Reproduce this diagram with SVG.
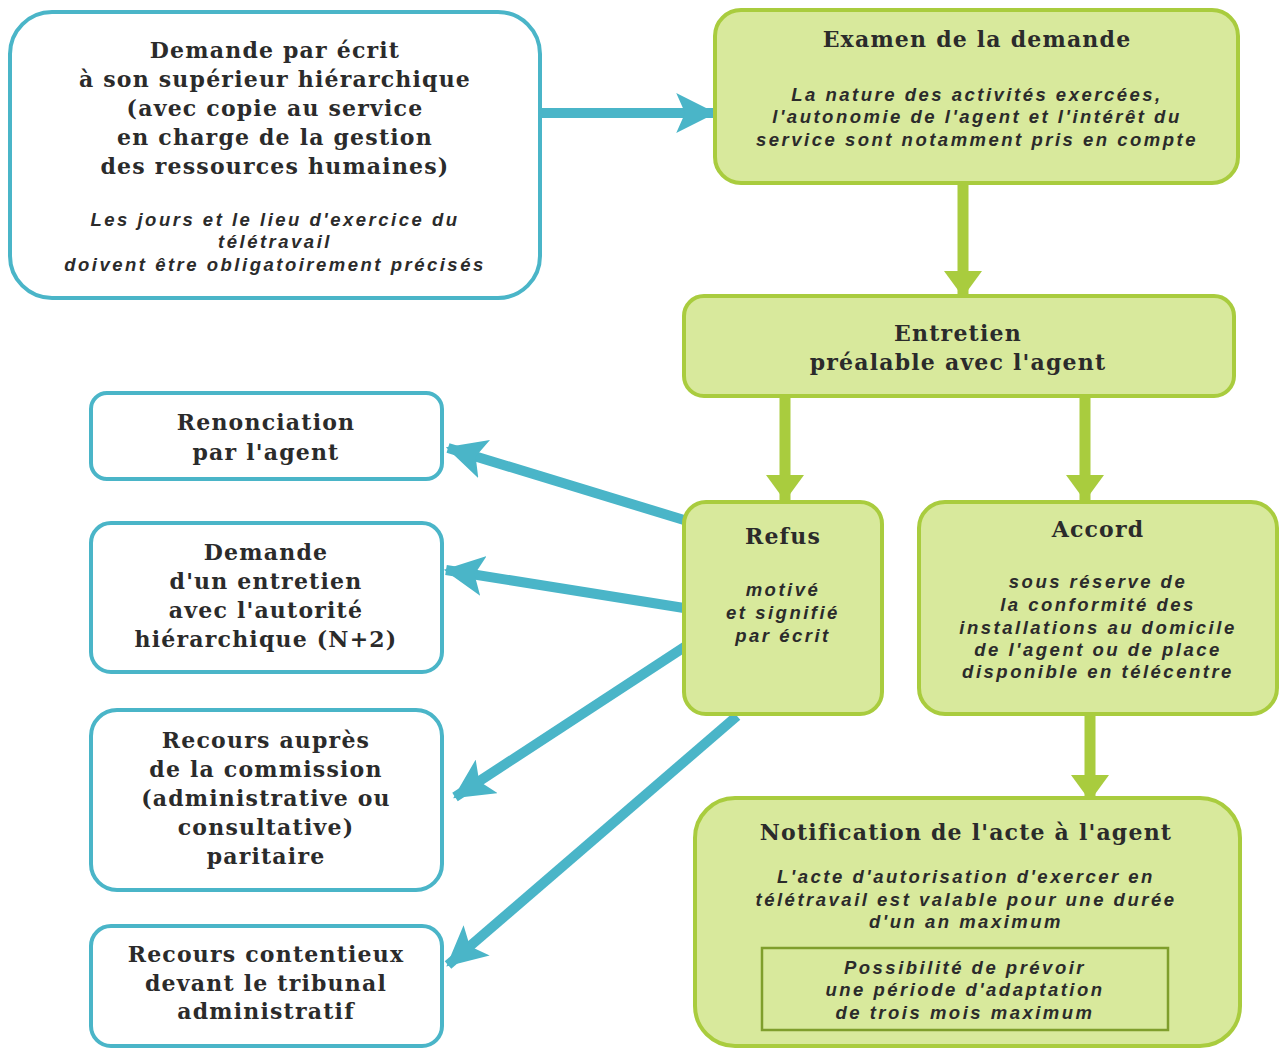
<svg xmlns="http://www.w3.org/2000/svg" width="1284" height="1049" viewBox="0 0 1284 1049">
<defs>
<style>
.bbox{fill:#ffffff;stroke:#4ab5c8;stroke-width:4}
.gbox{fill:#d8e99c;stroke:#a9cc3e;stroke-width:4}
.t{font-family:"DejaVu Serif","Liberation Serif",serif;font-weight:bold;font-size:22px;letter-spacing:1.2px;fill:#2b2b2b;text-anchor:middle}
.i{font-family:"Liberation Sans",Arial,sans-serif;font-style:italic;font-weight:bold;font-size:18.5px;letter-spacing:2.5px;fill:#2b2b2b;text-anchor:middle}
.bl{stroke:#4ab5c8;stroke-width:10;fill:none}
.gl{stroke:#a9cc3e;stroke-width:11;fill:none}
</style>
<marker id="ab" markerUnits="userSpaceOnUse" markerWidth="40" markerHeight="40" viewBox="0 0 36 36" refX="34" refY="18" orient="auto"><path d="M0,0 L36,18 L0,36 L8,18 Z" fill="#4ab5c8"/></marker>
<marker id="ag" markerUnits="userSpaceOnUse" markerWidth="26" markerHeight="38" viewBox="0 0 26 38" refX="25" refY="19" orient="auto"><path d="M0,0 L26,19 L0,38 Z" fill="#a9cc3e"/></marker>
</defs>
<rect width="1284" height="1049" fill="#ffffff"/>
<g id="connectors">
<line class="bl" x1="540" y1="113" x2="714" y2="113" marker-end="url(#ab)"/>
<line class="gl" x1="963" y1="183" x2="963" y2="296" marker-end="url(#ag)"/>
<line class="gl" x1="785" y1="396" x2="785" y2="500" marker-end="url(#ag)"/>
<line class="gl" x1="1085" y1="396" x2="1085" y2="500" marker-end="url(#ag)"/>
<line class="gl" x1="1090" y1="714" x2="1090" y2="800" marker-end="url(#ag)"/>
<line class="bl" x1="684" y1="520" x2="448" y2="448" marker-end="url(#ab)"/>
<line class="bl" x1="684" y1="608" x2="446" y2="570" marker-end="url(#ab)"/>
<line class="bl" x1="686" y1="646" x2="455" y2="797" marker-end="url(#ab)"/>
<line class="bl" x1="737" y1="716" x2="448" y2="965" marker-end="url(#ab)"/>
</g>
<g id="n-demande">
<rect class="bbox" x="10" y="12" width="530" height="286" rx="42"/>
<text class="t" x="275" y="58">Demande par écrit</text>
<text class="t" x="275" y="87">à son supérieur hiérarchique</text>
<text class="t" x="275" y="116">(avec copie au service</text>
<text class="t" x="275" y="145">en charge de la gestion</text>
<text class="t" x="275" y="174">des ressources humaines)</text>
<text class="i" x="275" y="226">Les jours et le lieu d'exercice du</text>
<text class="i" x="275" y="248">télétravail</text>
<text class="i" x="275" y="271">doivent être obligatoirement précisés</text>
</g>
<g id="n-examen">
<rect class="gbox" x="715" y="10" width="523" height="173" rx="26"/>
<text class="t" x="977" y="47">Examen de la demande</text>
<text class="i" x="977" y="101">La nature des activités exercées,</text>
<text class="i" x="977" y="123">l'autonomie de l'agent et l'intérêt du</text>
<text class="i" x="977" y="146">service sont notamment pris en compte</text>
</g>
<g id="n-entretien">
<rect class="gbox" x="684" y="296" width="550" height="100" rx="20"/>
<text class="t" x="958" y="341">Entretien</text>
<text class="t" x="958" y="370">préalable avec l'agent</text>
</g>
<g id="n-refus">
<rect class="gbox" x="684" y="502" width="198" height="212" rx="22"/>
<text class="t" x="783" y="544">Refus</text>
<text class="i" x="783" y="596">motivé</text>
<text class="i" x="783" y="619">et signifié</text>
<text class="i" x="783" y="642">par écrit</text>
</g>
<g id="n-accord">
<rect class="gbox" x="919" y="502" width="358" height="212" rx="26"/>
<text class="t" x="1098" y="537">Accord</text>
<text class="i" x="1098" y="588">sous réserve de</text>
<text class="i" x="1098" y="611">la conformité des</text>
<text class="i" x="1098" y="634">installations au domicile</text>
<text class="i" x="1098" y="656">de l'agent ou de place</text>
<text class="i" x="1098" y="678">disponible en télécentre</text>
</g>
<g id="n-notification">
<rect class="gbox" x="695" y="798" width="545" height="248" rx="40"/>
<text class="t" x="966" y="840">Notification de l'acte à l'agent</text>
<text class="i" x="966" y="883">L'acte d'autorisation d'exercer en</text>
<text class="i" x="966" y="906">télétravail est valable pour une durée</text>
<text class="i" x="966" y="928">d'un an maximum</text>
<rect x="762" y="948" width="406" height="82" fill="none" stroke="#7f9e2c" stroke-width="2.5"/>
<text class="i" x="965" y="974">Possibilité de prévoir</text>
<text class="i" x="965" y="996">une période d'adaptation</text>
<text class="i" x="965" y="1019">de trois mois maximum</text>
</g>
<g id="n-renonciation">
<rect class="bbox" x="91" y="393" width="351" height="86" rx="16"/>
<text class="t" x="266" y="430">Renonciation</text>
<text class="t" x="266" y="460">par l'agent</text>
</g>
<g id="n-entretien-n2">
<rect class="bbox" x="91" y="523" width="351" height="149" rx="20"/>
<text class="t" x="266" y="560">Demande</text>
<text class="t" x="266" y="589">d'un entretien</text>
<text class="t" x="266" y="618">avec l'autorité</text>
<text class="t" x="266" y="647">hiérarchique (N+2)</text>
</g>
<g id="n-commission">
<rect class="bbox" x="91" y="710" width="351" height="180" rx="26"/>
<text class="t" x="266" y="748">Recours auprès</text>
<text class="t" x="266" y="777">de la commission</text>
<text class="t" x="266" y="806">(administrative ou</text>
<text class="t" x="266" y="835">consultative)</text>
<text class="t" x="266" y="864">paritaire</text>
</g>
<g id="n-contentieux">
<rect class="bbox" x="91" y="926" width="351" height="120" rx="20"/>
<text class="t" x="266" y="962">Recours contentieux</text>
<text class="t" x="266" y="991">devant le tribunal</text>
<text class="t" x="266" y="1019">administratif</text>
</g>
</svg>
